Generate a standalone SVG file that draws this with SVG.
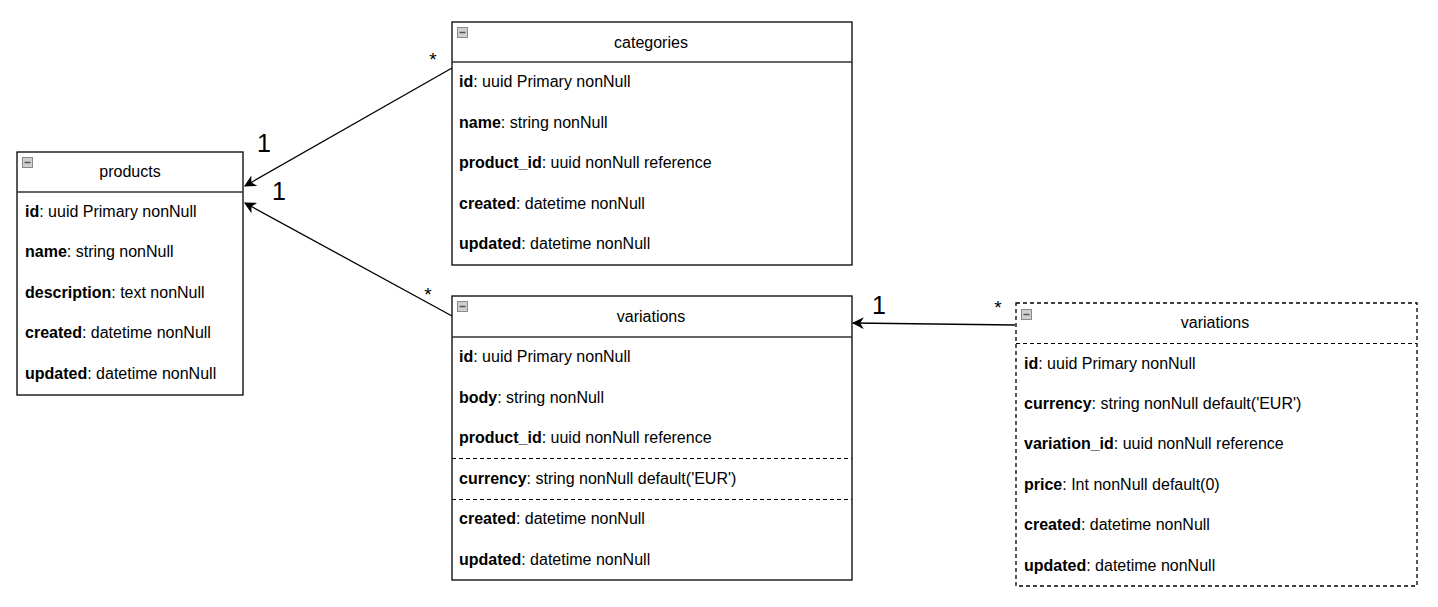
<svg xmlns="http://www.w3.org/2000/svg" width="1438" height="607" viewBox="0 0 1438 607">
<style>
text{font-family:"Liberation Sans",Arial,sans-serif;fill:#000}
.row{font-size:16px}
.title{font-size:16px;text-anchor:middle}
.b{font-weight:bold}
.box{fill:#fff;stroke:#000;stroke-width:1.3}
.dbox{fill:#fff;stroke:#000;stroke-width:1.3;stroke-dasharray:4 3}
.hl{stroke:#333;stroke-width:1.6}
.dl{stroke:#000;stroke-width:1.2;stroke-dasharray:4 3}
.ico{fill:#cfcfcf;stroke:#8a8a8a;stroke-width:1}
.icm{stroke:#555;stroke-width:1.5}
.edge{fill:none;stroke:#000;stroke-width:1.3}
.one{font-size:25px}
.star{font-size:19px}
</style>
<defs>
<marker id="arr" viewBox="0 0 10 10" refX="9" refY="5" markerWidth="12" markerHeight="12" markerUnits="userSpaceOnUse" orient="auto">
<path d="M0,0 L10,5 L0,10 L3,5 z" fill="#000"/>
</marker>
<g id="icon"><rect class="ico" x="0.5" y="0.5" width="10" height="10"/><line class="icm" x1="2.5" y1="5.5" x2="8.5" y2="5.5"/></g>
</defs>

<g id="connectors">
<line class="edge" x1="452" y1="68" x2="245" y2="186" marker-end="url(#arr)"/>
<line class="edge" x1="452" y1="316" x2="245" y2="203" marker-end="url(#arr)"/>
<line class="edge" x1="1015" y1="325" x2="853" y2="323" marker-end="url(#arr)"/>
<text class="star" x="433" y="66" text-anchor="middle">*</text>
<text class="one" x="264" y="152" text-anchor="middle">1</text>
<text class="one" x="279" y="200" text-anchor="middle">1</text>
<text class="star" x="428" y="301" text-anchor="middle">*</text>
<text class="one" x="879" y="314" text-anchor="middle">1</text>
<text class="star" x="998" y="314" text-anchor="middle">*</text>
</g>

<g id="products">
<rect class="box" x="17" y="152" width="226" height="243"/>
<line class="hl" x1="17" y1="192" x2="243" y2="192"/>
<use href="#icon" x="22" y="157"/>
<text class="title" x="130" y="177">products</text>
<text class="row" x="25" y="217"><tspan class="b">id</tspan>: uuid Primary nonNull</text>
<text class="row" x="25" y="257"><tspan class="b">name</tspan>: string nonNull</text>
<text class="row" x="25" y="298"><tspan class="b">description</tspan>: text nonNull</text>
<text class="row" x="25" y="338"><tspan class="b">created</tspan>: datetime nonNull</text>
<text class="row" x="25" y="379"><tspan class="b">updated</tspan>: datetime nonNull</text>
</g>

<g id="categories">
<rect class="box" x="452" y="22" width="400" height="243"/>
<line class="hl" x1="452" y1="62" x2="852" y2="62"/>
<use href="#icon" x="457" y="27"/>
<text class="title" x="651" y="48">categories</text>
<text class="row" x="459" y="87"><tspan class="b">id</tspan>: uuid Primary nonNull</text>
<text class="row" x="459" y="128"><tspan class="b">name</tspan>: string nonNull</text>
<text class="row" x="459" y="168"><tspan class="b">product_id</tspan>: uuid nonNull reference</text>
<text class="row" x="459" y="209"><tspan class="b">created</tspan>: datetime nonNull</text>
<text class="row" x="459" y="249"><tspan class="b">updated</tspan>: datetime nonNull</text>
</g>

<g id="variations">
<rect class="box" x="452" y="296" width="400" height="284"/>
<line class="hl" x1="452" y1="337" x2="852" y2="337"/>
<use href="#icon" x="457" y="301"/>
<text class="title" x="651" y="322">variations</text>
<text class="row" x="459" y="362"><tspan class="b">id</tspan>: uuid Primary nonNull</text>
<text class="row" x="459" y="403"><tspan class="b">body</tspan>: string nonNull</text>
<text class="row" x="459" y="443"><tspan class="b">product_id</tspan>: uuid nonNull reference</text>
<line class="dl" x1="452" y1="458.5" x2="852" y2="458.5"/>
<text class="row" x="459" y="484"><tspan class="b">currency</tspan>: string nonNull default('EUR')</text>
<line class="dl" x1="452" y1="499.5" x2="852" y2="499.5"/>
<text class="row" x="459" y="524"><tspan class="b">created</tspan>: datetime nonNull</text>
<text class="row" x="459" y="565"><tspan class="b">updated</tspan>: datetime nonNull</text>
</g>

<g id="variations-prices">
<rect class="dbox" x="1016" y="303" width="401" height="283"/>
<line class="dl" x1="1016" y1="343.5" x2="1417" y2="343.5"/>
<use href="#icon" x="1021" y="309"/>
<text class="title" x="1215" y="328">variations</text>
<text class="row" x="1024" y="369"><tspan class="b">id</tspan>: uuid Primary nonNull</text>
<text class="row" x="1024" y="409"><tspan class="b">currency</tspan>: string nonNull default('EUR')</text>
<text class="row" x="1024" y="449"><tspan class="b">variation_id</tspan>: uuid nonNull reference</text>
<text class="row" x="1024" y="490"><tspan class="b">price</tspan>: Int nonNull default(0)</text>
<text class="row" x="1024" y="530"><tspan class="b">created</tspan>: datetime nonNull</text>
<text class="row" x="1024" y="571"><tspan class="b">updated</tspan>: datetime nonNull</text>
</g>
</svg>
